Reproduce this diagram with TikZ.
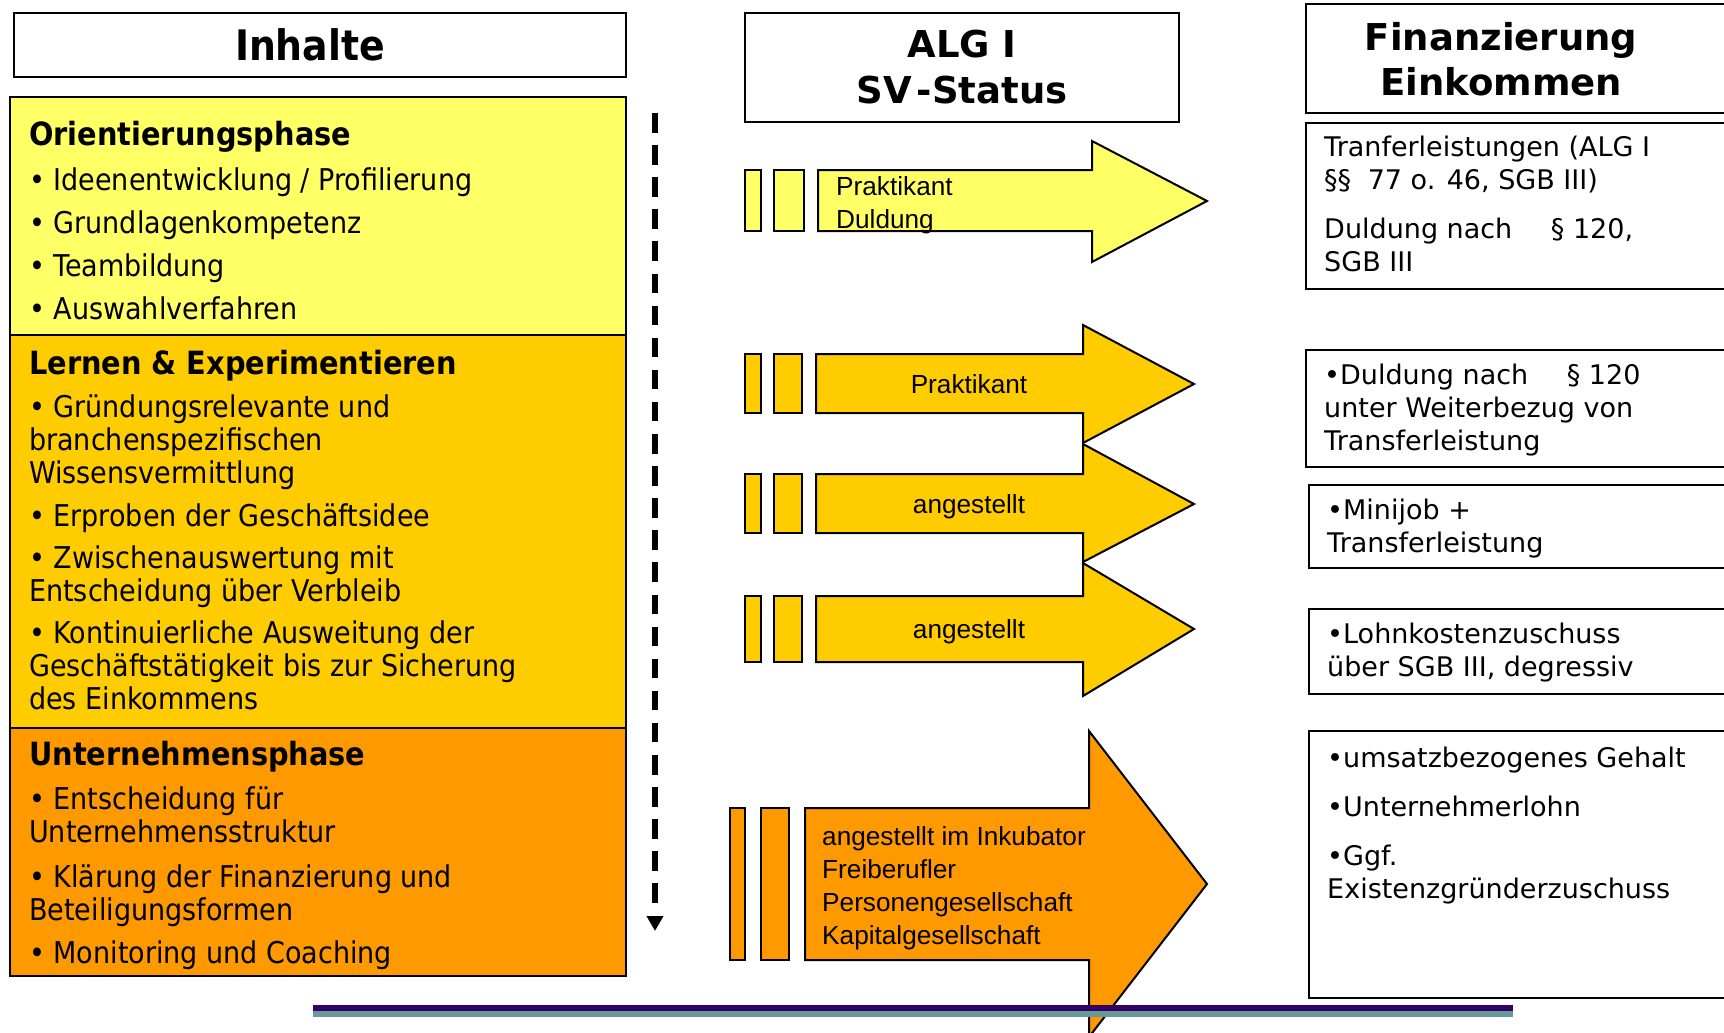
\documentclass[tikz,border=0pt]{standalone}
\usepackage{fontspec}
\setmainfont{DejaVu Sans}
\newfontfamily\condfont{DejaVu Sans Condensed}
\newfontfamily\arialfont{Liberation Sans}
\usetikzlibrary{arrows.meta}

\definecolor{phaseyellow}{HTML}{FFFF66}
\definecolor{phasegold}{HTML}{FFCC00}
\definecolor{phaseorange}{HTML}{FF9900}
\definecolor{barpurple}{HTML}{330066}
\definecolor{barteal}{HTML}{669999}

\begin{document}
\begin{tikzpicture}[x=1pt,y=-1pt,
  frame/.style={draw,line width=2.5pt},
  arrowbox/.style={draw,line width=2pt,line join=miter},
  headtext/.style={font=\fontsize{37}{45.5}\selectfont\bfseries,align=center},
  phasetext/.style={anchor=north west,inner sep=0pt,align=left,font=\condfont\fontsize{30}{33}\selectfont},
  fintext/.style={anchor=north west,inner sep=0pt,align=left,font=\fontsize{27}{33}\selectfont},
  statustext/.style={inner sep=0pt,align=left,font=\arialfont\fontsize{26.2}{33}\selectfont}]

\useasboundingbox (0,0) rectangle (1724,1033);

% headers
\draw[frame] (14,13) rectangle (626,77);
\node[font=\condfont\fontsize{42}{42}\selectfont\bfseries](inhalte) at (310,45) {Inhalte};
\draw[frame] (745,13) rectangle (1179,122);
\node[headtext](alg) at (962,67) {ALG I\\SV\hspace{5pt}-Status};
\draw[frame] (1306,4) rectangle (1740,113);
\node[headtext](fin) at (1501,59) {Finanzierung\\Einkommen};

% phases
\draw[frame,fill=phaseyellow] (10,97) rectangle (626,335);
\draw[frame,fill=phasegold] (10,335) rectangle (626,728);
\draw[frame,fill=phaseorange] (10,728) rectangle (626,976);

\node[phasetext](orient) at (29,121) {\textbf{\fontsize{32}{33}\selectfont Orientierungsphase}\\[12pt]
• Ideenentwicklung / Profilierung\\[10pt]
• Grundlagenkompetenz\\[10pt]
• Teambildung\\[10pt]
• Auswahlverfahren};

\node[phasetext](lernen) at (29,350) {\textbf{\fontsize{32}{33}\selectfont Lernen \& Experimentieren}\\[10pt]
• Gründungsrelevante und\\
branchenspezifischen\\
Wissensvermittlung\\[10pt]
• Erproben der Geschäftsidee\\[9pt]
• Zwischenauswertung mit\\
Entscheidung über Verbleib\\[9pt]
• Kontinuierliche Ausweitung der\\
Geschäftstätigkeit bis zur Sicherung\\
des Einkommens};

\node[phasetext](untern) at (29,741) {\textbf{\fontsize{32}{33}\selectfont Unternehmensphase}\\[11pt]
• Entscheidung für\\
Unternehmensstruktur\\[12pt]
• Klärung der Finanzierung und\\
Beteiligungsformen\\[10pt]
• Monitoring und Coaching};

% time axis
\coordinate (t0) at (655,113);
\coordinate (t1) at (655,931);
\draw[line width=6pt,dash pattern=on 19.5pt off 12.6pt,-{Triangle[width=16pt,length=15pt]}] (t0) -- (t1);

% status arrows
\draw[arrowbox,fill=phaseyellow] (745,170) rectangle (761,231);
\draw[arrowbox,fill=phaseyellow] (774,170) rectangle (804,231);
\draw[arrowbox,fill=phaseyellow] (818,170) -- (1092,170) -- (1092,141) -- (1207,201)
  -- (1092,262) -- (1092,231) -- (818,231) -- cycle;
\node[statustext,anchor=north west](s1) at (836,176) {Praktikant\\Duldung};

\foreach \yt/\yb/\ht/\hb/\ty/\txt in {354/413/325/443/384/Praktikant,
  474/533/444/562/504/angestellt, 596/662/563/696/629/angestellt}{
  \draw[arrowbox,fill=phasegold] (745,\yt) rectangle (761,\yb);
  \draw[arrowbox,fill=phasegold] (774,\yt) rectangle (802,\yb);
  \draw[arrowbox,fill=phasegold] (816,\yt) -- (1083,\yt) -- (1083,\ht) -- (1194,\ty)
    -- (1083,\hb) -- (1083,\yb) -- (816,\yb) -- cycle;
  \node[statustext,anchor=base] at (969,\ty+9.5) {\txt};
}

\draw[arrowbox,fill=phaseorange] (730,808) rectangle (745,960);
\draw[arrowbox,fill=phaseorange] (761,808) rectangle (789,960);
\draw[arrowbox,fill=phaseorange] (805,808) -- (1089,808) -- (1089,731) -- (1207,884)
  -- (1089,1037) -- (1089,960) -- (805,960) -- cycle;
\node[statustext,anchor=north west](s5) at (822,826) {angestellt im Inkubator\\Freiberufler\\Personengesellschaft\\Kapitalgesellschaft};

% financing
\draw[frame] (1306,123) rectangle (1740,289);
\node[fintext](f1) at (1324,136) {Tranferleistungen (ALG I\\§§\hspace{8pt} 77 o. 46, SGB III)\\[16pt]
Duldung nach\hspace{30pt} § 120,\\SGB III};
\draw[frame] (1306,350) rectangle (1740,467);
\node[fintext](f2) at (1324,364) {•Duldung nach\hspace{30pt} § 120\\unter Weiterbezug von\\Transferleistung};
\draw[frame] (1309,485) rectangle (1740,568);
\node[fintext](f3) at (1327,499) {•Minijob +\\Transferleistung};
\draw[frame] (1309,609) rectangle (1740,694);
\node[fintext](f4) at (1327,623) {•Lohnkostenzuschuss\\über SGB III, degressiv};
\draw[frame] (1309,731) rectangle (1740,998);
\node[fintext](f5) at (1327,747) {•umsatzbezogenes Gehalt\\[16pt]
•Unternehmerlohn\\[16pt]
•Ggf.\\Existenzgründerzuschuss};

% footer rule
\fill[barpurple] (313,1005) rectangle (1513,1011);
\fill[barteal] (313,1011) rectangle (1513,1017);
\end{tikzpicture}
\end{document}
